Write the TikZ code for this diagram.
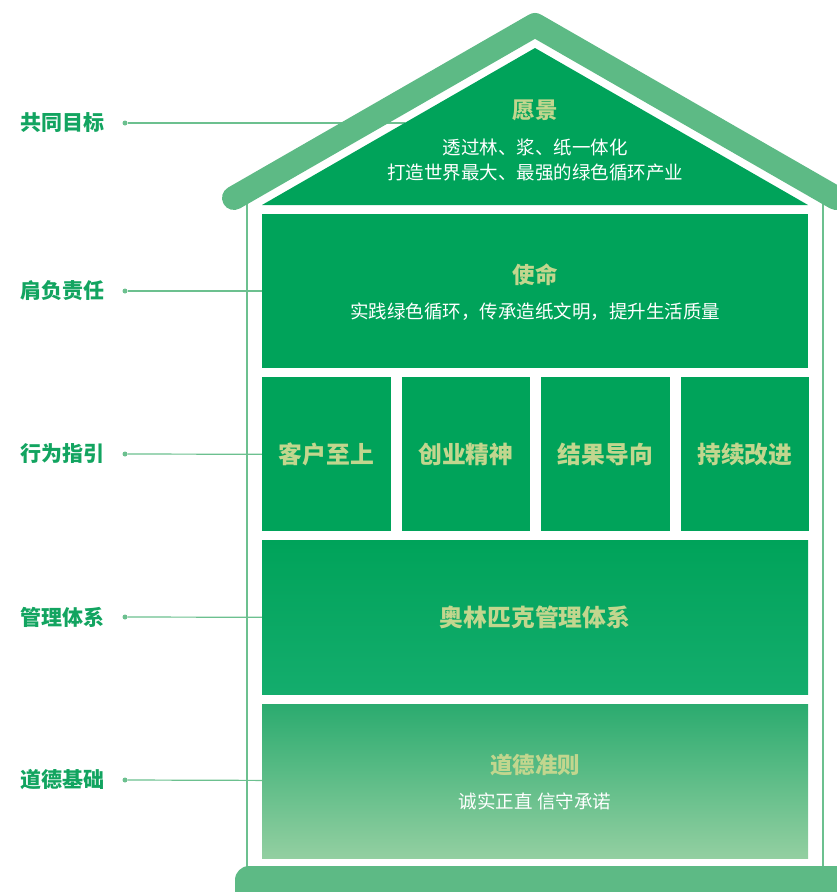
\documentclass[tikz,border=0pt]{standalone}
\usepackage{fontspec}
\setmainfont{Noto Sans CJK SC}
\usepackage{xcolor}
\usepackage{tikz}
\usetikzlibrary{positioning}
\definecolor{housegreen}{HTML}{00A35A}
\definecolor{roofgreen}{HTML}{5DBA85}
\definecolor{linegreen}{HTML}{6CC08F}
\definecolor{labelgreen}{HTML}{12A460}
\definecolor{titlegold}{HTML}{C2D68E}
\definecolor{mgmtlow}{HTML}{14AD6D}
\definecolor{ethtop}{HTML}{2BAB6F}
\definecolor{ethlow}{HTML}{93CFA1}
\tikzstyle{block}    = [rectangle, fill=housegreen, inner sep=0pt, minimum width=546pt, minimum height=154pt]
\tikzstyle{bigtext}  = [text=titlegold, font=\fontsize{23.8}{24}\selectfont\bfseries]
\tikzstyle{pillar}   = [block, bigtext, minimum width=128.5pt]
\tikzstyle{boxtitle} = [text=titlegold, inner sep=0pt, font=\fontsize{22.5}{23}\selectfont\bfseries]
\tikzstyle{boxsub}   = [text=white, inner sep=0pt, align=center, font=\fontsize{18.5}{25}\selectfont]
\tikzstyle{sidetext} = [anchor=west, inner sep=0pt, text=labelgreen, font=\fontsize{21}{21}\selectfont\bfseries]
\tikzstyle{dot}      = [circle, fill=linegreen, inner sep=0pt, minimum size=5pt]
\tikzstyle{line}     = [draw=linegreen, line width=1.2pt]
\tikzstyle{wall}     = [draw=linegreen, line width=2.5pt]
\tikzstyle{roof}     = [draw=roofgreen, line width=24pt, line cap=round, line join=round]

\begin{document}
\begin{tikzpicture}[x=1pt, y=-1pt, node distance=10.67pt]
	\useasboundingbox (0,0) rectangle (836,892);
	\node [sidetext] (l1) at (20,123) {共同目标};
	\node [sidetext] (l2) at (20,291) {肩负责任};
	\node [sidetext] (l3) at (20,454) {行为指引};
	\node [sidetext] (l4) at (20,617) {管理体系};
	\node [sidetext] (l5) at (20,780) {道德基础};
	\node [dot] (d1) at (125,123) {};
	\node [dot] (d2) at (125,291) {};
	\node [dot] (d3) at (125,454) {};
	\node [dot] (d4) at (125,617) {};
	\node [dot] (d5) at (125,780) {};
	\coordinate (t1) at (405,123);
	\path [line] (d1) -- (t1);
	% house frame
	\path [wall] (247,200) -- (247,870);
	\path [wall] (823,200) -- (823,870);
	\fill [roofgreen, rounded corners=14pt] (235,866) rectangle (900,930);
	\path [roof] (234,198) -- (535,25) -- (836,198);
	\fill [housegreen] (262,205) -- (535,48) -- (808,205) -- cycle;
	\node [boxtitle] (vt) at (535,110) {愿景};
	\node [boxsub] (vs) at (535,160) {透过林、浆、纸一体化\\打造世界最大、最强的绿色循环产业};
	% floors
	\node [block] (mission) at (535,291) {};
	\node [boxtitle] (mt) at ([yshift=16pt]mission.center) {使命};
	\node [boxsub] (ms) at ([yshift=-21pt]mission.center) {实践绿色循环，传承造纸文明，提升生活质量};
	\node [pillar, below=9pt of mission.south west, anchor=north west] (p1) {客户至上};
	\node [pillar, right=of p1] (p2) {创业精神};
	\node [pillar, right=of p2] (p3) {结果导向};
	\node [pillar, right=of p3] (p4) {持续改进};
	\node [block, bigtext, top color=housegreen, bottom color=mgmtlow, below=9pt of p1.south west, anchor=north west] (mgmt) {奥林匹克管理体系};
	\node [block, top color=ethtop, bottom color=ethlow, below=9pt of mgmt.south west, anchor=north west] (ethics) {};
	\node [boxtitle] (et) at ([yshift=16pt]ethics.center) {道德准则};
	\node [boxsub] (es) at ([yshift=-20pt]ethics.center) {诚实正直 信守承诺};
	\path [line] (d2) -- (mission);
	\path [line] (d3) -- (p1);
	\path [line] (d4) -- (mgmt);
	\path [line] (d5) -- (ethics);
\end{tikzpicture}
\end{document}
